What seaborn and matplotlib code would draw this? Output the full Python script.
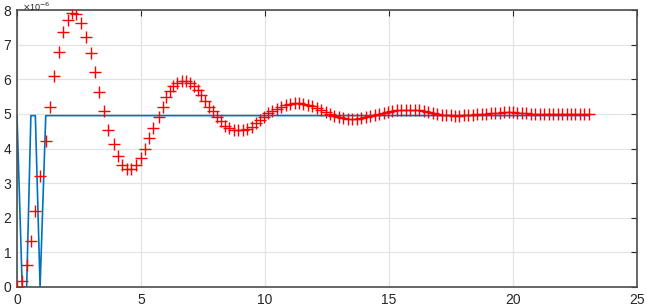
import numpy as np
import pandas as pd
import matplotlib
matplotlib.use("Agg")
import matplotlib.pyplot as plt
import seaborn as sns

# ---- data (values in units of 1e-6) ----
t_resp = [0.00, 0.21, 0.39, 0.56, 0.74, 0.93, 1.16, 1.35, 1.50, 1.68,
          1.85, 2.05, 2.22, 2.38, 2.57, 2.77, 2.97, 3.15, 3.32, 3.51,
          3.68, 3.90, 4.08, 4.23, 4.42, 4.58, 4.79, 4.98, 5.15, 5.33,
          5.50, 5.72, 5.88, 6.02, 6.17, 6.31, 6.47, 6.64, 6.82, 6.98,
          7.14, 7.28, 7.42, 7.58, 7.75, 7.92, 8.08, 8.22, 8.39, 8.56,
          8.75, 8.93, 9.12, 9.29, 9.46, 9.64, 9.80, 9.96, 10.13, 10.30,
          10.48, 10.66, 10.84, 11.02, 11.20, 11.38, 11.55, 11.73, 11.90, 12.08,
          12.26, 12.44, 12.62, 12.80, 12.98, 13.16, 13.34, 13.52, 13.70, 13.88,
          14.06, 14.24, 14.42, 14.60, 14.78, 14.96, 15.14, 15.32, 15.50, 15.68,
          15.86, 16.04, 16.22, 16.40, 16.58, 16.76, 16.94, 17.12, 17.30, 17.48,
          17.66, 17.84, 18.02, 18.20, 18.38, 18.56, 18.74, 18.92, 19.10, 19.28,
          19.46, 19.64, 19.82, 20.00, 20.18, 20.36, 20.54, 20.72, 20.90, 21.08,
          21.26, 21.44, 21.62, 21.80, 21.98, 22.16, 22.34, 22.52, 22.70, 22.88,
          23.06]
y_resp = [0.00, 0.18, 0.64, 1.33, 2.20, 3.20, 4.21, 5.20, 6.08, 6.80,
          7.36, 7.72, 7.90, 7.88, 7.62, 7.23, 6.76, 6.20, 5.64, 5.07,
          4.54, 4.12, 3.77, 3.53, 3.42, 3.41, 3.53, 3.72, 3.99, 4.30,
          4.60, 4.92, 5.21, 5.48, 5.67, 5.81, 5.90, 5.96, 5.96, 5.90,
          5.81, 5.69, 5.55, 5.36, 5.21, 5.07, 4.92, 4.78, 4.65, 4.59,
          4.54, 4.52, 4.52, 4.57, 4.63, 4.73, 4.83, 4.90, 5.02, 5.08,
          5.14, 5.20, 5.25, 5.29, 5.31, 5.31, 5.29, 5.26, 5.22, 5.16,
          5.10, 5.04, 4.99, 4.94, 4.90, 4.88, 4.86, 4.86, 4.86, 4.88,
          4.90, 4.93, 4.96, 5.00, 5.03, 5.06, 5.08, 5.10, 5.11, 5.12,
          5.12, 5.11, 5.10, 5.08, 5.05, 5.03, 5.00, 4.98, 4.97, 4.96,
          4.95, 4.95, 4.96, 4.96, 4.97, 4.99, 5.00, 5.01, 5.02, 5.03,
          5.03, 5.04, 5.04, 5.04, 5.03, 5.03, 5.02, 5.01, 5.00, 5.00,
          4.99, 4.99, 4.99, 4.99, 4.99, 5.00, 5.00, 5.00, 5.00, 5.00,
          5.00]

t_input = [0.00, 0.21, 0.39, 0.56, 0.74, 0.93, 1.16, 23.06]
y_input = [4.95, 0.00, 0.00, 4.95, 4.95, 0.00, 4.95, 4.95]

x_ticks = [0, 5, 10, 15, 20, 25]
y_ticks = [0, 1, 2, 3, 4, 5, 6, 7, 8]

resp = pd.DataFrame({"t": t_resp, "y": y_resp})
inp = pd.DataFrame({"t": t_input, "y": y_input})

sns.set_style("whitegrid")
plt.rcParams['font.family'] = ['Liberation Sans', 'DejaVu Sans']

fig = plt.figure(figsize=(6.47, 3.08), dpi=100)
ax = fig.add_axes([17/647, 1-287/308, (637-17)/647, (287-10)/308])

sns.lineplot(data=inp, x="t", y="y", ax=ax, color="#0072BD", linewidth=1.2,
             estimator=None, sort=False, zorder=2)
sns.scatterplot(data=resp, x="t", y="y", ax=ax, marker="+", s=70,
                color="#ff0000", linewidth=1.0, zorder=3)

ax.set_xlim(0, 25)
ax.set_ylim(0, 8)
ax.set_xticks(x_ticks)
ax.set_yticks(y_ticks)
ax.set_xlabel("")
ax.set_ylabel("")
ax.grid(True, color="#e3e3e3", linewidth=0.9)
ax.set_axisbelow(True)
for s in ax.spines.values():
    s.set_visible(True)
    s.set_color("#4d4d4d")
    s.set_linewidth(1.2)
ax.tick_params(axis="both", direction="in", length=4, width=0.8,
               colors="#262626", labelsize=10, top=True, right=True,
               pad=4)

fig.text(22/647, 1-1/308, r"$\times$10$^{-6}$", fontsize=6.5, color="#262626",
         ha="left", va="top")

fig.savefig("out.png", dpi=100)
